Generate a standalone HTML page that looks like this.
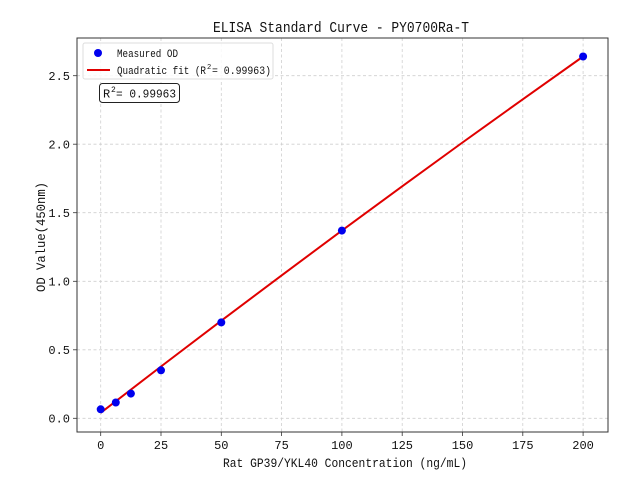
<!DOCTYPE html>
<html><head><meta charset="utf-8"><style>html,body{margin:0;padding:0;background:#fff}svg{display:block}</style></head>
<body>
<svg width="640" height="480" xmlns="http://www.w3.org/2000/svg" font-family="'Liberation Mono','WenQuanYi Zen Hei',monospace">
<rect width="640" height="480" fill="#fff"/>
<g stroke="#cfcfcf" stroke-width="0.8" stroke-dasharray="3,2.5">
<line x1="100.7" y1="38" x2="100.7" y2="432"/><line x1="161" y1="38" x2="161" y2="432"/><line x1="221.3" y1="38" x2="221.3" y2="432"/><line x1="281.6" y1="38" x2="281.6" y2="432"/><line x1="341.9" y1="38" x2="341.9" y2="432"/><line x1="402.2" y1="38" x2="402.2" y2="432"/><line x1="462.5" y1="38" x2="462.5" y2="432"/><line x1="522.8" y1="38" x2="522.8" y2="432"/><line x1="583.1" y1="38" x2="583.1" y2="432"/>
<line x1="77" y1="418.3" x2="608" y2="418.3"/><line x1="77" y1="349.8" x2="608" y2="349.8"/><line x1="77" y1="281.3" x2="608" y2="281.3"/><line x1="77" y1="212.7" x2="608" y2="212.7"/><line x1="77" y1="144.2" x2="608" y2="144.2"/><line x1="77" y1="75.7" x2="608" y2="75.7"/>
</g>
<polyline fill="none" stroke="#e00000" stroke-width="2" points="100.7,412.8 161,366.5 221.3,320.7 281.6,275.4 341.9,230.6 402.2,186.3 462.5,142.5 522.8,99.3 583.1,56.5"/>
<g fill="#0000ee">
<circle cx="100.7" cy="409.3" r="4"/><circle cx="115.8" cy="402.5" r="4"/><circle cx="130.9" cy="393.6" r="4"/><circle cx="161" cy="370.3" r="4"/><circle cx="221.3" cy="322.4" r="4"/><circle cx="341.9" cy="230.6" r="4"/><circle cx="583.1" cy="56.5" r="4"/>
</g>
<rect x="77" y="38" width="531" height="394" fill="none" stroke="#333" stroke-width="1"/>
<g stroke="#333" stroke-width="0.8">
<line x1="100.7" y1="432" x2="100.7" y2="436"/><line x1="161" y1="432" x2="161" y2="436"/><line x1="221.3" y1="432" x2="221.3" y2="436"/><line x1="281.6" y1="432" x2="281.6" y2="436"/><line x1="341.9" y1="432" x2="341.9" y2="436"/><line x1="402.2" y1="432" x2="402.2" y2="436"/><line x1="462.5" y1="432" x2="462.5" y2="436"/><line x1="522.8" y1="432" x2="522.8" y2="436"/><line x1="583.1" y1="432" x2="583.1" y2="436"/>
<line x1="73" y1="418.3" x2="77" y2="418.3"/><line x1="73" y1="349.8" x2="77" y2="349.8"/><line x1="73" y1="281.3" x2="77" y2="281.3"/><line x1="73" y1="212.7" x2="77" y2="212.7"/><line x1="73" y1="144.2" x2="77" y2="144.2"/><line x1="73" y1="75.7" x2="77" y2="75.7"/>
</g>
<g font-size="12" fill="#111" text-anchor="middle">
<text x="100.7" y="449">0</text><text x="161" y="449">25</text><text x="221.3" y="449">50</text><text x="281.6" y="449">75</text><text x="341.9" y="449">100</text><text x="402.2" y="449">125</text><text x="462.5" y="449">150</text><text x="522.8" y="449">175</text><text x="583.1" y="449">200</text>
</g>
<g font-size="12" fill="#111" text-anchor="end">
<text x="70" y="422.5">0.0</text><text x="70" y="354">0.5</text><text x="70" y="285.5">1.0</text><text x="70" y="217">1.5</text><text x="70" y="148.5">2.0</text><text x="70" y="80">2.5</text>
</g>
<text x="213" y="32" font-size="15" fill="#111" textLength="256" lengthAdjust="spacingAndGlyphs">ELISA Standard Curve - PY0700Ra-T</text>
<text x="223" y="467" font-size="12.5" fill="#111" textLength="244" lengthAdjust="spacingAndGlyphs">Rat GP39/YKL40 Concentration (ng/mL)</text>
<text transform="translate(45,292) rotate(-90)" font-size="12.5" fill="#111" textLength="110" lengthAdjust="spacingAndGlyphs">OD Value(450nm)</text>
<rect x="83" y="43" width="190" height="36" rx="2" fill="#fff" fill-opacity="0.85" stroke="#ddd"/>
<circle cx="98" cy="53" r="4" fill="#0000ee"/>
<line x1="87" y1="70" x2="110" y2="70" stroke="#e00000" stroke-width="2"/>
<text x="117" y="57" font-size="11" fill="#111" textLength="61" lengthAdjust="spacingAndGlyphs">Measured OD</text>
<text x="117" y="74" font-size="11" fill="#111" textLength="89" lengthAdjust="spacingAndGlyphs">Quadratic fit (R</text>
<text x="207" y="69" font-size="7" fill="#111">2</text>
<text x="212" y="74" font-size="11" fill="#111" textLength="59" lengthAdjust="spacingAndGlyphs"> = 0.99963)</text>
<rect x="99.5" y="83.5" width="80" height="19" rx="3" fill="#fff" stroke="#222"/>
<text x="103" y="97.5" font-size="12" fill="#111">R</text>
<text x="111" y="92" font-size="8" fill="#111">2</text>
<text x="116" y="97.5" font-size="12" fill="#111" textLength="60" lengthAdjust="spacingAndGlyphs">= 0.99963</text>
</svg>
</body></html>
